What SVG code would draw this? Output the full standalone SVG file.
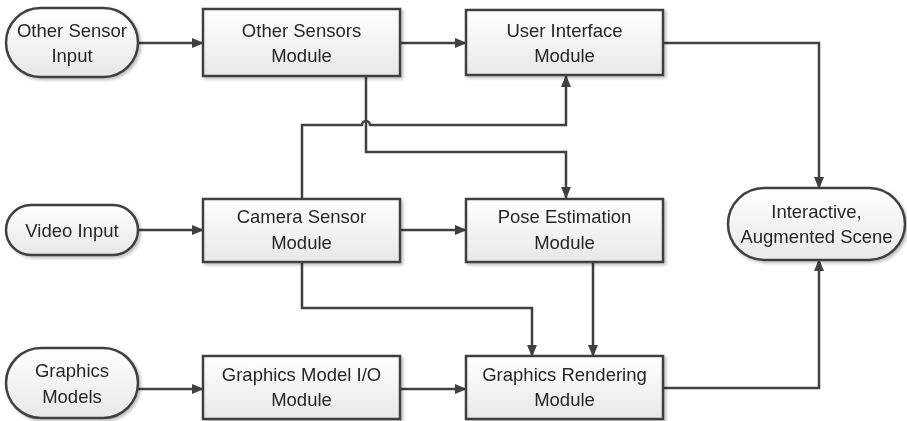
<svg xmlns="http://www.w3.org/2000/svg" width="907" height="421" viewBox="0 0 907 421">
<style>
.box{fill:url(#g);stroke:#404040;stroke-width:2.5}
.term{fill:url(#g);stroke:#404040;stroke-width:2.5}
.t{font-family:"Liberation Sans",Arial,sans-serif;font-size:18.5px;fill:#262626;text-anchor:middle}
.c{fill:none;stroke:#404040;stroke-width:2.5;stroke-linejoin:miter}
.a{marker-end:url(#ah)}
</style>
<defs>
<linearGradient id="g" x1="0" y1="0" x2="0" y2="1">
<stop offset="0" stop-color="#ffffff"/>
<stop offset="1" stop-color="#e8e8e8"/>
</linearGradient>
<filter id="sh" x="-10%" y="-10%" width="125%" height="130%">
<feGaussianBlur in="SourceAlpha" stdDeviation="1.5"/>
<feOffset dx="1.5" dy="2" result="o"/>
<feComponentTransfer><feFuncA type="linear" slope="0.25"/></feComponentTransfer>
<feMerge><feMergeNode/><feMergeNode in="SourceGraphic"/></feMerge>
</filter>
<marker id="ah" viewBox="0 0 12 10" refX="11" refY="5" markerWidth="12" markerHeight="10" markerUnits="userSpaceOnUse" orient="auto">
<path d="M0,0 L12,5 L0,10 Z" fill="#404040"/>
</marker>
</defs>

<g id="connectors">
<path class="c a" d="M138,43 H203"/>
<path class="c a" d="M400,43 H466"/>
<path class="c a" d="M663,43 H819 V188"/>
<path class="c a" d="M366,76 V152 H566 V198"/>
<path class="c a" d="M302,199 V125 H362 A4,4 0 0 1 370,125 H566 V76"/>
<path class="c a" d="M138,230 H203"/>
<path class="c a" d="M400,230 H466"/>
<path class="c a" d="M302,262 V308 H532 V356"/>
<path class="c a" d="M593,262 V356"/>
<path class="c a" d="M138,389 H203"/>
<path class="c a" d="M400,389 H466"/>
<path class="c a" d="M663,388 H819 V260"/>
</g>

<g id="other-sensor-input" filter="url(#sh)">
<rect class="term" x="6" y="8" width="132" height="69" rx="34.5"/>
<text class="t" x="72" y="37">Other Sensor</text>
<text class="t" x="72" y="62">Input</text>
</g>
<g id="other-sensors-module" filter="url(#sh)">
<rect class="box" x="203" y="9" width="197" height="67"/>
<text class="t" x="301.5" y="37">Other Sensors</text>
<text class="t" x="301.5" y="62">Module</text>
</g>
<g id="user-interface-module" filter="url(#sh)">
<rect class="box" x="466" y="10" width="197" height="65"/>
<text class="t" x="564.5" y="37">User Interface</text>
<text class="t" x="564.5" y="62">Module</text>
</g>
<g id="video-input" filter="url(#sh)">
<rect class="term" x="6" y="205" width="132" height="50" rx="25"/>
<text class="t" x="72" y="237">Video Input</text>
</g>
<g id="camera-sensor-module" filter="url(#sh)">
<rect class="box" x="203" y="199" width="197" height="63"/>
<text class="t" x="301.5" y="223">Camera Sensor</text>
<text class="t" x="301.5" y="249">Module</text>
</g>
<g id="pose-estimation-module" filter="url(#sh)">
<rect class="box" x="466" y="199" width="197" height="63"/>
<text class="t" x="564.5" y="223">Pose Estimation</text>
<text class="t" x="564.5" y="249">Module</text>
</g>
<g id="interactive-augmented-scene" filter="url(#sh)">
<rect class="term" x="728" y="188" width="177" height="72" rx="36"/>
<text class="t" x="816.5" y="218">Interactive,</text>
<text class="t" x="816.5" y="243">Augmented Scene</text>
</g>
<g id="graphics-models" filter="url(#sh)">
<rect class="term" x="6" y="348" width="132" height="70" rx="35"/>
<text class="t" x="72" y="377">Graphics</text>
<text class="t" x="72" y="403">Models</text>
</g>
<g id="graphics-model-io-module" filter="url(#sh)">
<rect class="box" x="203" y="356" width="197" height="63"/>
<text class="t" x="301.5" y="381">Graphics Model I/O</text>
<text class="t" x="301.5" y="406">Module</text>
</g>
<g id="graphics-rendering-module" filter="url(#sh)">
<rect class="box" x="466" y="356" width="197" height="63"/>
<text class="t" x="564.5" y="381">Graphics Rendering</text>
<text class="t" x="564.5" y="406">Module</text>
</g>
</svg>
